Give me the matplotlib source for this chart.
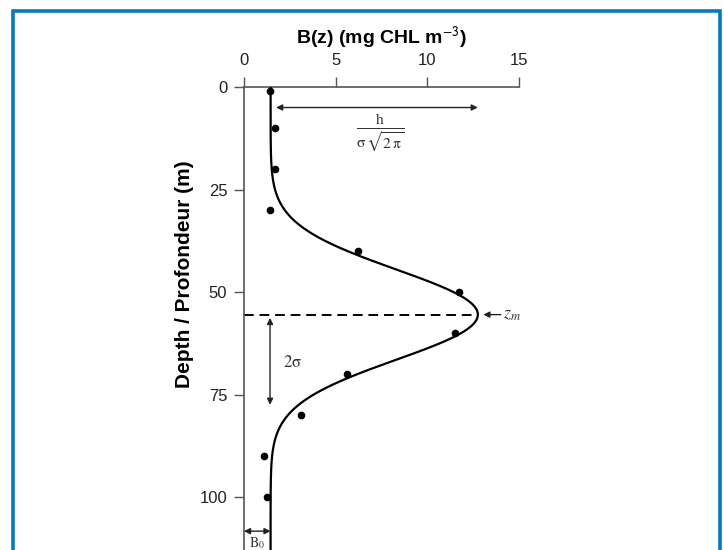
import numpy as np
import matplotlib.pyplot as plt
from matplotlib.patches import Rectangle

plt.rcParams['font.family'] = ['Liberation Sans', 'DejaVu Sans']
plt.rcParams['mathtext.fontset'] = 'stix'

# measured chlorophyll profile
depth = [1, 10, 20, 30, 40, 50, 60, 70, 80, 90, 100]
chl = [1.4, 1.7, 1.7, 1.4, 6.2, 11.7, 11.5, 5.6, 3.1, 1.1, 1.25]

# shifted Gaussian fit parameters
b0 = 1.45        # background biomass
peak = 11.3      # h / (sigma * sqrt(2 pi))
zm = 55.5        # depth of the maximum
sigma = 11.0

x_ticks = [0, 5, 10, 15]
y_ticks = [0, 25, 50, 75, 100]

fig = plt.figure(figsize=(7.24, 5.5), dpi=100)
ax = fig.add_axes([0.337, 0.0, 0.380, 0.8418])

z = np.linspace(0, 113, 400)
b = b0 + peak * np.exp(-(z - zm) ** 2 / (2 * sigma ** 2))
ax.plot(b, z, color='black', lw=1.6, zorder=3)
ax.plot(chl, depth, 'o', color='black', ms=4.5, zorder=4)

ax.set_xlim(0, 15)
ax.set_ylim(112.9, 0)
ax.xaxis.tick_top()
ax.xaxis.set_label_position('top')
ax.set_xticks(x_ticks)
ax.set_yticks(y_ticks)
ax.tick_params(direction='out', length=7, width=1, color='#555555',
               labelsize=12, labelcolor='#222222')
ax.tick_params(axis='x', pad=7)
ax.tick_params(axis='y', pad=5)
for s in ['right', 'bottom']:
    ax.spines[s].set_visible(False)
for s in ['left', 'top']:
    ax.spines[s].set_color('#555555')
    ax.spines[s].set_linewidth(1.2)

ax.set_xlabel('B(z) (mg CHL m$^{\\mathsf{-3}}$)', fontsize=14,
              fontweight='bold', labelpad=6)
ax.set_ylabel('Depth / Profondeur (m)', fontsize=15, fontweight='bold')
ax.yaxis.set_label_coords(-0.182, 0.596)

arrow = dict(arrowstyle='<|-|>', color='#222222', lw=1.0, mutation_scale=9,
             shrinkA=0, shrinkB=0)

# peak height
ax.annotate('', xy=(12.75, 5), xytext=(1.75, 5), arrowprops=arrow)
ax.text(7.4, 11.3, r'$\frac{\mathrm{h}}{\mathrm{σ}\,\sqrt{2\,\mathrm{π}}}$',
        ha='center', va='center', fontsize=16, color='#333333')

# depth of maximum
ax.axhline(zm, xmin=0, xmax=12.75 / 15, color='black', lw=1.4,
           ls=(0, (5, 3)), zorder=2)
ax.annotate('', xy=(13.05, zm), xytext=(14.0, zm),
            arrowprops=dict(arrowstyle='-|>', color='#222222', lw=1.0,
                            mutation_scale=9, shrinkA=0, shrinkB=0),
            annotation_clip=False)
ax.text(14.1, zm, r'$z_m$', ha='left', va='center', fontsize=13,
        color='#333333', clip_on=False)

# width
ax.annotate('', xy=(1.42, zm + 2 * sigma), xytext=(1.42, zm + 0.8),
            arrowprops=arrow)
ax.text(2.1, 67, r'$\mathrm{2σ}$', ha='left', va='center', fontsize=12,
        color='#333333')

# background
ax.annotate('', xy=(0, 108.3), xytext=(b0, 108.3), arrowprops=arrow,
            annotation_clip=False)
ax.text(0.72, 109.2, r'$\mathrm{B}_0$', ha='center', va='top', fontsize=10,
        color='#333333', clip_on=False)

# page frame
fig.add_artist(Rectangle((13 / 724, -0.05), 707 / 724, 1.05 - 11 / 550,
                         transform=fig.transFigure, fill=False,
                         edgecolor='#0a78bd', lw=2.6))

fig.savefig('out.png', dpi=100)
